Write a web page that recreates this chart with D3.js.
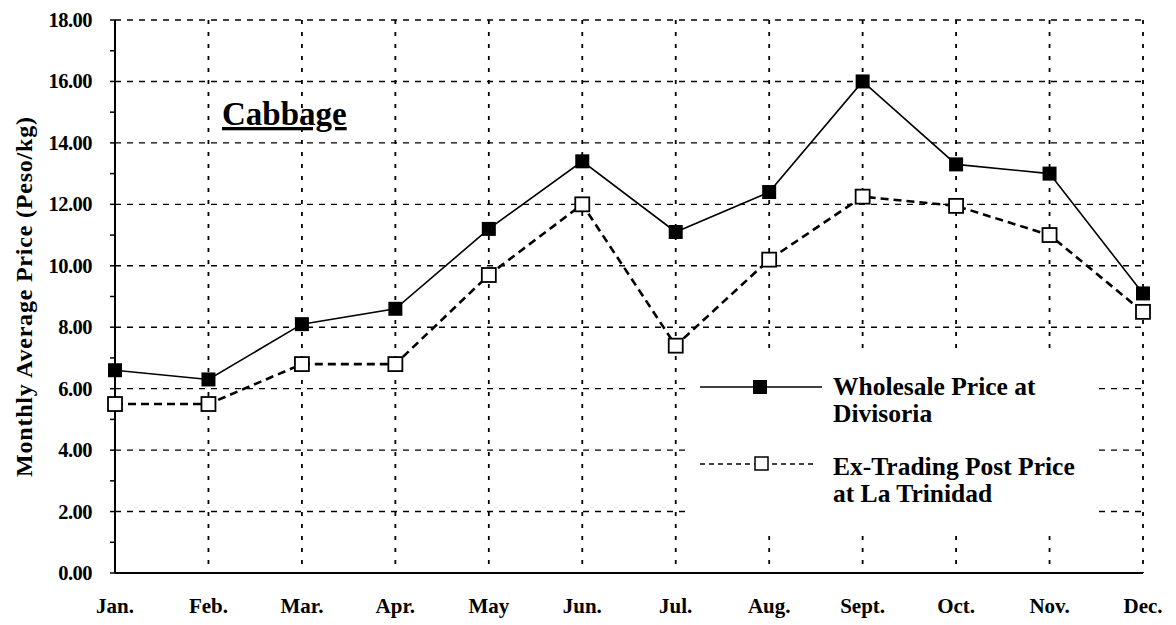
<!DOCTYPE html>
<html>
<head>
<meta charset="utf-8">
<script src="https://cdn.jsdelivr.net/npm/d3@7"></script>
<style>
  body { margin: 0; background: #fff; }
  svg { display: block; font-family: "Liberation Serif", "Times New Roman", serif; font-weight: bold; }
</style>
</head>
<body>
<div id="chart"></div>
<script>
const months = ["Jan.", "Feb.", "Mar.", "Apr.", "May", "Jun.", "Jul.", "Aug.", "Sept.", "Oct.", "Nov.", "Dec."];
const wholesale = [6.6, 6.3, 8.1, 8.6, 11.2, 13.4, 11.1, 12.4, 16.0, 13.3, 13.0, 9.1];
const exTrading = [5.5, 5.5, 6.8, 6.8, 9.7, 12.0, 7.4, 10.2, 12.25, 11.95, 11.0, 8.5];
const yTicks = [0, 2, 4, 6, 8, 10, 12, 14, 16, 18];
const yMinor = [1, 3, 5, 7, 9, 11, 13, 15, 17];

const width = 1176, height = 625;
const margin = {top: 20, right: 33, bottom: 52, left: 115};

const svg = d3.select("#chart").append("svg")
    .attr("width", width)
    .attr("height", height);

let x = d3.scalePoint()
    .domain(months)
    .range([margin.left, width - margin.right]);

let y = d3.scaleLinear()
    .domain([0, 18])
    .range([height - margin.bottom, margin.top]);

// grid
svg.append("g")
    .selectAll("line")
    .data(yTicks.filter(d => d > 0))
    .join("line")
      .attr("x1", margin.left).attr("x2", width - margin.right)
      .attr("y1", d => y(d)).attr("y2", d => y(d))
      .attr("stroke", "#000").attr("stroke-width", 1.4)
      .attr("stroke-dasharray", "6,6");

svg.append("g")
    .selectAll("line")
    .data(months.slice(1))
    .join("line")
      .attr("x1", d => x(d)).attr("x2", d => x(d))
      .attr("y1", y(18)).attr("y2", y(0))
      .attr("stroke", "#000").attr("stroke-width", 1.8)
      .attr("stroke-dasharray", "4,8");

// axes
svg.append("line")
    .attr("x1", margin.left).attr("x2", margin.left)
    .attr("y1", y(18)).attr("y2", y(0))
    .attr("stroke", "#000").attr("stroke-width", 2);
svg.append("line")
    .attr("x1", margin.left).attr("x2", width - margin.right)
    .attr("y1", y(0)).attr("y2", y(0))
    .attr("stroke", "#000").attr("stroke-width", 2);

svg.append("g")
    .selectAll("line")
    .data(yTicks.concat(yMinor))
    .join("line")
      .attr("x1", margin.left - 5).attr("x2", margin.left)
      .attr("y1", d => y(d)).attr("y2", d => y(d))
      .attr("stroke", "#000").attr("stroke-width", 1.5);

svg.append("g")
    .selectAll("text")
    .data(yTicks)
    .join("text")
      .attr("x", 92)
      .attr("y", d => y(d) + 7)
      .attr("text-anchor", "end")
      .attr("font-size", 20.5)
      .attr("letter-spacing", -0.5)
      .text(d => d3.format(".2f")(d));

svg.append("g")
    .selectAll("text")
    .data(months)
    .join("text")
      .attr("x", d => x(d))
      .attr("y", 613)
      .attr("text-anchor", "middle")
      .attr("font-size", 21)
      .text(d => d);

svg.append("text")
    .attr("transform", `translate(32, 297) rotate(-90)`)
    .attr("text-anchor", "middle")
    .attr("font-size", 24)
    .attr("textLength", 360)
    .text("Monthly Average Price (Peso/kg)");

// title
svg.append("text")
    .attr("x", 222)
    .attr("y", 125)
    .attr("font-size", 33)
    .attr("text-decoration", "underline")
    .text("Cabbage");

// series
let line = d3.line()
    .x((d, i) => x(months[i]))
    .y(d => y(d));

svg.append("path")
    .datum(exTrading)
    .attr("d", line)
    .attr("fill", "none")
    .attr("stroke", "#000")
    .attr("stroke-width", 2.6)
    .attr("stroke-dasharray", "8,5");

svg.append("path")
    .datum(wholesale)
    .attr("d", line)
    .attr("fill", "none")
    .attr("stroke", "#000")
    .attr("stroke-width", 1.6);

const sz = 14;
svg.append("g")
    .selectAll("rect")
    .data(exTrading)
    .join("rect")
      .attr("x", (d, i) => x(months[i]) - sz / 2)
      .attr("y", d => y(d) - sz / 2)
      .attr("width", sz).attr("height", sz)
      .attr("fill", "#fff").attr("stroke", "#000").attr("stroke-width", 1.8);

svg.append("g")
    .selectAll("rect")
    .data(wholesale)
    .join("rect")
      .attr("x", (d, i) => x(months[i]) - sz / 2)
      .attr("y", d => y(d) - sz / 2)
      .attr("width", sz).attr("height", sz)
      .attr("fill", "#000");

// legend
let legend = svg.append("g");
legend.append("rect")
    .attr("x", 685).attr("y", 356)
    .attr("width", 408).attr("height", 172)
    .attr("fill", "#fff");

legend.append("line")
    .attr("x1", 700).attr("x2", 822)
    .attr("y1", 387).attr("y2", 387)
    .attr("stroke", "#000").attr("stroke-width", 1.5);
legend.append("rect")
    .attr("x", 753).attr("y", 380)
    .attr("width", sz).attr("height", sz)
    .attr("fill", "#000");
legend.append("text")
    .attr("font-size", 25.5)
    .selectAll("tspan")
    .data(["Wholesale Price at", "Divisoria"])
    .join("tspan")
      .attr("x", 833)
      .attr("y", (d, i) => 395 + i * 27)
      .text(d => d);

legend.append("line")
    .attr("x1", 700).attr("x2", 815)
    .attr("y1", 464).attr("y2", 464)
    .attr("stroke", "#000").attr("stroke-width", 1.5)
    .attr("stroke-dasharray", "5,4");
legend.append("rect")
    .attr("x", 755).attr("y", 457)
    .attr("width", 13).attr("height", 13)
    .attr("fill", "#fff").attr("stroke", "#000").attr("stroke-width", 1.5);
legend.append("text")
    .attr("font-size", 25.5)
    .selectAll("tspan")
    .data(["Ex-Trading Post Price", "at La Trinidad"])
    .join("tspan")
      .attr("x", 833)
      .attr("y", (d, i) => 475 + i * 27)
      .text(d => d);
</script>
</body>
</html>
